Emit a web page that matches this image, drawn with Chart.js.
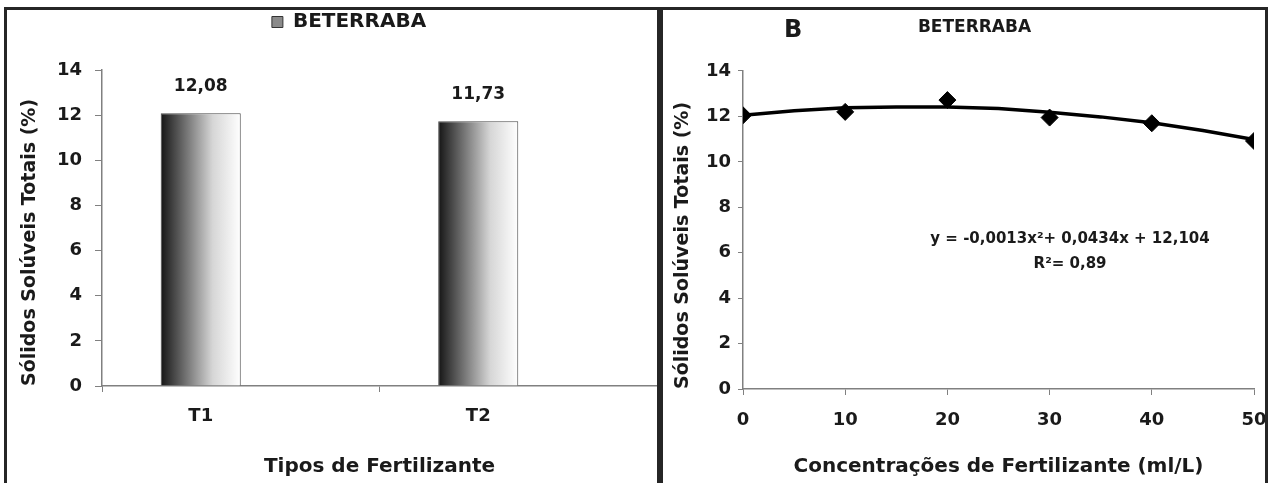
<!DOCTYPE html>
<html lang="pt">
<head>
<meta charset="utf-8">
<title>Sólidos solúveis totais - beterraba</title>
<script src="https://cdn.jsdelivr.net/npm/chart.js@4.4.1/dist/chart.umd.min.js"></script>
<style>
  html, body { margin: 0; padding: 0; background: #fff; }
  body { width: 1269px; height: 483px; position: relative; overflow: hidden; }
  .moldura { position: absolute; left: 4px; top: 7px; width: 1258px; height: 490px; border: 3px solid #262626; }
  .divisoria { position: absolute; left: 657px; top: 7px; width: 6px; height: 480px; background: #262626; }
  #graficoTipos { position: absolute; left: 7px; top: 10px; }
  #graficoConcentracoes { position: absolute; left: 663px; top: 10px; }
  .letra { position: absolute; left: 784px; top: 15px; font: bold 24px "DejaVu Sans", sans-serif; color: #1a1a1a; }
</style>
</head>
<body>
<div class="moldura"></div>
<canvas id="graficoTipos" width="650" height="473"></canvas>
<div class="divisoria"></div>
<canvas id="graficoConcentracoes" width="602" height="473"></canvas>
<div class="letra">B</div>
<script>
// painel A - tipos de fertilizante
const rotulosTipos = ["T1", "T2"];
const valoresBeterraba = [12.08, 11.73];
const serieVazia = [null, null];

// painel B - concentracoes (ml/L)
const concentracoes = [0, 10, 20, 30, 40, 50];
const valoresConcentracao = [12.05, 12.2, 12.72, 11.95, 11.7, 10.92];
// linha de tendencia
const concTendencia = [0, 5, 10, 15, 20, 25, 30, 35, 40, 45, 50];
const valoresTendencia = [12.05, 12.25, 12.38, 12.42, 12.42, 12.35, 12.18, 11.98, 11.72, 11.38, 10.98];
const ticksY = [0, 2, 4, 6, 8, 10, 12, 14];
const textoEquacao = "y = -0,0013x²+ 0,0434x + 12,104";
const textoR2 = "R²= 0,89";

const fonte = '"DejaVu Sans", sans-serif';
const corTexto = "#1a1a1a";
const corEixo = "#808080";
const percCategoria = 0.577;

Chart.defaults.font.family = fonte;
Chart.defaults.font.weight = "bold";
Chart.defaults.color = corTexto;

function gradienteBarra(c) {
  const { chart, dataIndex } = c;
  if (!chart.chartArea || dataIndex === undefined) return "#8a8a8a";
  const xs = chart.scales.x;
  const centro = xs.getPixelForValue(dataIndex);
  const larg = (xs.width / rotulosTipos.length) * percCategoria / 2;
  const g = chart.ctx.createLinearGradient(centro - larg, 0, centro, 0);
  g.addColorStop(0, "#151515");
  g.addColorStop(0.3, "#6e6e6e");
  g.addColorStop(0.65, "#d6d6d6");
  g.addColorStop(1, "#ffffff");
  return g;
}

// abre espaco entre a legenda e o grafico
const espacoLegenda = {
  id: "espacoLegenda",
  beforeInit(chart) {
    const fitOriginal = chart.legend.fit;
    chart.legend.fit = function fit() {
      fitOriginal.bind(chart.legend)();
      this.height += 28;
    };
  }
};

const rotulosValores = {
  id: "rotulosValores",
  afterDatasetsDraw(chart) {
    const { ctx } = chart;
    const meta = chart.getDatasetMeta(0);
    ctx.save();
    ctx.font = "bold 17px " + fonte;
    ctx.fillStyle = corTexto;
    ctx.textAlign = "center";
    ctx.textBaseline = "middle";
    meta.data.forEach((barra, i) => {
      const valor = valoresBeterraba[i].toFixed(2).replace(".", ",");
      ctx.fillText(valor, barra.x, barra.y - 27);
    });
    ctx.restore();
  }
};

const equacao = {
  id: "equacao",
  afterDraw(chart) {
    const { ctx, scales: { x, y } } = chart;
    ctx.save();
    ctx.font = "bold 15px " + fonte;
    ctx.fillStyle = corTexto;
    ctx.textAlign = "center";
    ctx.textBaseline = "middle";
    ctx.fillText(textoEquacao, x.getPixelForValue(32), y.getPixelForValue(6.6));
    ctx.fillText(textoR2, x.getPixelForValue(32), y.getPixelForValue(5.5));
    ctx.restore();
  }
};

const tituloY = {
  display: true,
  text: "Sólidos Solúveis Totais (%)",
  align: "start",
  font: { size: 19, weight: "bold" },
  color: corTexto
};

new Chart(document.getElementById("graficoTipos"), {
  type: "bar",
  data: {
    labels: rotulosTipos,
    datasets: [
      {
        label: "BETERRABA",
        data: valoresBeterraba,
        backgroundColor: gradienteBarra,
        borderColor: "#4a4a4a",
        borderWidth: 1,
        borderSkipped: "start",
        categoryPercentage: percCategoria,
        barPercentage: 1
      },
      {
        label: "",
        data: serieVazia,
        backgroundColor: "#ffffff",
        categoryPercentage: percCategoria,
        barPercentage: 1
      }
    ]
  },
  options: {
    responsive: false,
    animation: false,
    layout: { padding: { left: 34, right: 0, top: 0, bottom: 0 } },
    plugins: {
      legend: {
        position: "top",
        labels: {
          boxWidth: 11,
          boxHeight: 11,
          padding: 2,
          color: corTexto,
          font: { size: 20, weight: "bold" },
          filter: (item) => item.datasetIndex === 0,
          generateLabels(chart) {
            const itens = Chart.defaults.plugins.legend.labels.generateLabels(chart);
            itens.forEach((item) => { item.fillStyle = "#8a8a8a"; item.strokeStyle = "#333"; });
            return itens;
          }
        }
      },
      tooltip: { enabled: false }
    },
    scales: {
      x: {
        offset: true,
        grid: { offset: true, drawOnChartArea: false, tickLength: 6, tickColor: corEixo },
        border: { color: corEixo, width: 1.5 },
        ticks: { labelOffset: -40, padding: 14, font: { size: 18, weight: "bold" }, color: corTexto },
        title: {
          display: true,
          text: "Tipos de Fertilizante",
          font: { size: 20, weight: "bold" },
          color: corTexto,
          padding: { top: 0, bottom: 4 }
        },
        afterFit(scale) {
          scale.height = 97;
          scale.paddingLeft = 0;
          scale.paddingRight = 0;
        }
      },
      y: {
        min: 0,
        max: 14,
        afterBuildTicks(scale) { scale.ticks = ticksY.map((v) => ({ value: v })); },
        grid: { drawOnChartArea: false, tickLength: 7, tickColor: corEixo },
        border: { color: corEixo, width: 1.5 },
        ticks: { padding: 13, font: { size: 18, weight: "bold" }, color: corTexto },
        title: Object.assign({}, tituloY, { padding: { top: -22.4, bottom: 0 } }),
        afterFit(scale) { scale.width = 61; }
      }
    }
  },
  plugins: [espacoLegenda, rotulosValores]
});

new Chart(document.getElementById("graficoConcentracoes"), {
  type: "scatter",
  data: {
    datasets: [
      {
        label: "BETERRABA",
        data: concentracoes.map((c, i) => ({ x: c, y: valoresConcentracao[i] })),
        pointStyle: "rectRot",
        pointRadius: 8.5,
        backgroundColor: "#000",
        borderColor: "#000",
        borderWidth: 1,
        order: 1
      },
      {
        label: "Tendência",
        type: "line",
        data: concTendencia.map((c, i) => ({ x: c, y: valoresTendencia[i] })),
        borderColor: "#000",
        borderWidth: 3.5,
        pointRadius: 0,
        fill: false,
        tension: 0,
        order: 2
      }
    ]
  },
  options: {
    responsive: false,
    animation: false,
    layout: { padding: { left: 32, right: 11, top: 0, bottom: 0 } },
    plugins: {
      legend: { display: false },
      tooltip: { enabled: false },
      title: {
        display: true,
        text: "BETERRABA",
        font: { size: 17, weight: "bold" },
        color: corTexto,
        padding: { top: 7.8, bottom: 32.8 }
      }
    },
    scales: {
      x: {
        type: "linear",
        min: 0,
        max: 50,
        ticks: { stepSize: 10, padding: 15, font: { size: 18, weight: "bold" }, color: corTexto },
        grid: { drawOnChartArea: false, tickLength: 6, tickColor: corEixo },
        border: { color: corEixo, width: 1.5 },
        title: {
          display: true,
          text: "Concentrações de Fertilizante (ml/L)",
          font: { size: 20, weight: "bold" },
          color: corTexto,
          padding: { top: 0, bottom: 4 }
        },
        afterFit(scale) {
          scale.height = 94;
          scale.paddingLeft = 0;
          scale.paddingRight = 0;
        }
      },
      y: {
        min: 0,
        max: 14,
        afterBuildTicks(scale) { scale.ticks = ticksY.map((v) => ({ value: v })); },
        grid: { drawOnChartArea: false, tickLength: 5, tickColor: corEixo },
        border: { color: corEixo, width: 1.5 },
        ticks: { padding: 7, font: { size: 18, weight: "bold" }, color: corTexto },
        title: Object.assign({}, tituloY, { padding: { top: -23.4, bottom: 0 } }),
        afterFit(scale) { scale.width = 48; }
      }
    }
  },
  plugins: [equacao]
});
</script>
</body>
</html>
